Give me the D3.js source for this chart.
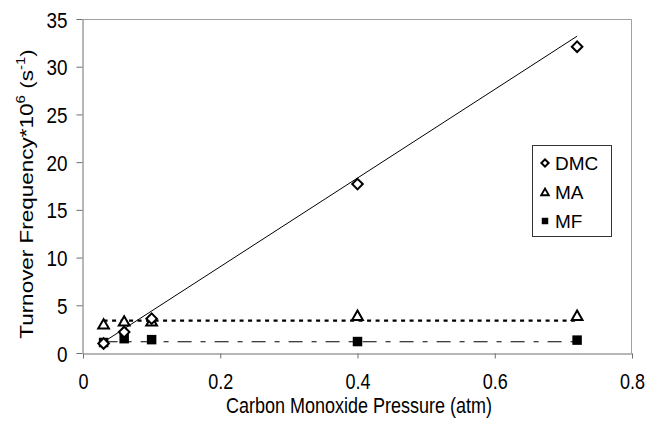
<!DOCTYPE html>
<html>
<head>
<meta charset="utf-8">
<script src="https://cdn.jsdelivr.net/npm/d3@7"></script>
<style>
  html, body { margin: 0; padding: 0; background: #fff; }
  svg { display: block; font-family: "Liberation Sans", Arial, sans-serif; }
</style>
</head>
<body>
<svg id="chart" width="647" height="426"></svg>
<script>
// CO pressure (atm) for each run
const pressure = [0.03, 0.06, 0.1, 0.4, 0.72];
// Turnover frequencies (x10^6 s^-1)
const dmc = [1.0, 2.2, 3.6, 17.7, 32.1];
const ma  = [3.0, 3.3, 3.3, 3.9, 3.9];
const mf  = [1.1, 1.5, 1.4, 1.2, 1.35];
// Fitted/average lines drawn over the measured range
const dmcTrend = [[0.03, 1.15], [0.72, 33.2]];
const maLevel = 3.4;
const mfLevel = 1.18;
const xTicks = [0, 0.2, 0.4, 0.6, 0.8];
const yTicks = [0, 5, 10, 15, 20, 25, 30, 35];
const seriesNames = ["DMC", "MA", "MF"];

const FS = 18;      // axis text size
const STRETCH = 1.25; // axis text is drawn slightly tall
const svg = d3.select("#chart");
const plotL = 83, plotR = 632, plotT = 19, plotB = 353;

const x = d3.scaleLinear().domain([0, 0.8]).range([plotL, plotR]);
const y = d3.scaleLinear().domain([0, 35]).range([plotB, plotT]);

// plot area border (top and right)
svg.append("path")
  .attr("d", `M${plotL},${plotT + 0.5}H${plotR - 0.5}V${plotB}`)
  .attr("fill", "none").attr("stroke", "#a0a0a0").attr("stroke-width", 1);

// axes
const xAxis = svg.append("g").attr("transform", `translate(0,${plotB + 0.5})`)
  .call(d3.axisBottom(x).tickValues(xTicks).tickFormat(d3.format("")).tickSize(5).tickSizeOuter(0));
const yAxis = svg.append("g").attr("transform", `translate(${plotL - 0.5},0)`)
  .call(d3.axisLeft(y).tickValues(yTicks).tickSize(6).tickSizeOuter(0));
[xAxis, yAxis].forEach(g => {
  g.select(".domain").attr("stroke", "#6e6e6e");
  g.selectAll(".tick line").attr("stroke", "#6e6e6e");
  g.selectAll(".tick text").attr("fill", "#000").attr("font-size", FS)
    .attr("font-family", "Liberation Sans, Arial, sans-serif");
});
xAxis.selectAll(".tick text").attr("x", 0).attr("y", 0).attr("dy", 0)
  .attr("transform", `translate(0,35) scale(1,${STRETCH})`);
yAxis.selectAll(".tick text").attr("x", 0).attr("y", 0).attr("dy", "0.36em")
  .attr("transform", `translate(-15,0) scale(1.05,${STRETCH})`);

// axis titles
svg.append("text")
  .attr("transform", `translate(359,413) scale(1,${STRETCH})`)
  .attr("text-anchor", "middle").attr("font-size", FS)
  .text("Carbon Monoxide Pressure (atm)");

const yt = svg.append("text")
  .attr("transform", `translate(33,${(plotT + plotB) / 2 + 8}) rotate(-90) scale(${STRETCH},1)`)
  .attr("text-anchor", "middle").attr("font-size", FS);
yt.append("tspan").text("Turnover Frequency*10");
yt.append("tspan").attr("font-size", 12).attr("dy", -8).text("6");
yt.append("tspan").attr("dy", 8).text(" (s");
yt.append("tspan").attr("font-size", 12).attr("dy", -8).text("-1");
yt.append("tspan").attr("dy", 8).text(")");

// lines
const line = d3.line().x(d => x(d[0])).y(d => y(d[1]));
const xr = d3.extent(pressure);
svg.append("path").datum(dmcTrend).attr("d", line)
  .attr("fill", "none").attr("stroke", "#000").attr("stroke-width", 1);
svg.append("path").datum(xr.map(p => [p, maLevel])).attr("d", line)
  .attr("fill", "none").attr("stroke", "#000").attr("stroke-width", 2.2)
  .attr("stroke-dasharray", "4,4.5");
svg.append("path").datum(xr.map(p => [p, mfLevel])).attr("d", line)
  .attr("fill", "none").attr("stroke", "#000").attr("stroke-width", 1.2)
  .attr("stroke-dasharray", "14,9,5,9");

// markers
const diamond = d3.symbol().type(d3.symbolSquare).size(56);
const tri = d3.symbol().type(d3.symbolTriangle).size(50);
const sq = d3.symbol().type(d3.symbolSquare).size(90);

svg.append("g").selectAll("path").data(pressure.map((p, i) => [p, mf[i]])).join("path")
  .attr("transform", d => `translate(${x(d[0])},${y(d[1])})`)
  .attr("d", sq).attr("fill", "#000");
svg.append("g").selectAll("path").data(pressure.map((p, i) => [p, ma[i]])).join("path")
  .attr("transform", d => `translate(${x(d[0])},${y(d[1]) + 1})`)
  .attr("d", tri).attr("fill", "#fff").attr("stroke", "#000").attr("stroke-width", 2);
svg.append("g").selectAll("path").data(pressure.map((p, i) => [p, dmc[i]])).join("path")
  .attr("transform", d => `translate(${x(d[0])},${y(d[1])}) rotate(45)`)
  .attr("d", diamond).attr("fill", "#fff").attr("stroke", "#000").attr("stroke-width", 2);

// legend
const lg = svg.append("g").attr("transform", "translate(532,145)");
lg.append("rect").attr("x", 0.5).attr("y", 0.5).attr("width", 79).attr("height", 91)
  .attr("fill", "#fff").attr("stroke", "#333").attr("stroke-width", 1);
const legendSyms = [
  d3.symbol().type(d3.symbolSquare).size(26),
  d3.symbol().type(d3.symbolTriangle).size(26),
  d3.symbol().type(d3.symbolSquare).size(42)
];
seriesNames.forEach((name, i) => {
  const cy = 18 + i * 29;
  const m = lg.append("path").attr("d", legendSyms[i]);
  if (i === 0) m.attr("transform", `translate(13,${cy}) rotate(45)`).attr("fill", "#fff").attr("stroke", "#000").attr("stroke-width", 2);
  else if (i === 1) m.attr("transform", `translate(13,${cy + 1})`).attr("fill", "#fff").attr("stroke", "#000").attr("stroke-width", 1.8);
  else m.attr("transform", `translate(13,${cy})`).attr("fill", "#000");
  lg.append("text").attr("x", 23).attr("y", cy + 7).attr("font-size", 19).text(name);
});
</script>
</body>
</html>
